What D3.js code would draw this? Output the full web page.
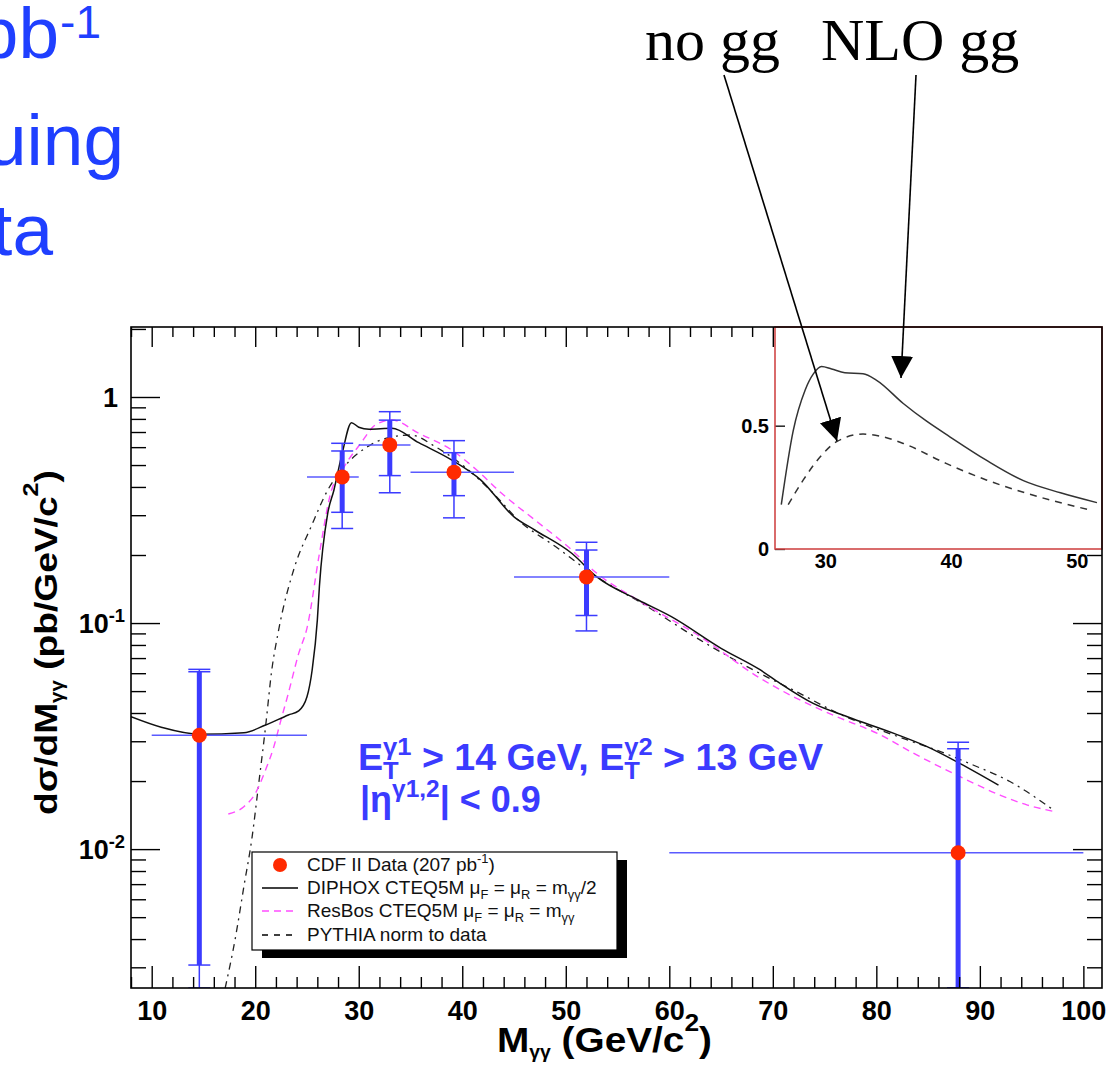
<!DOCTYPE html>
<html>
<head>
<meta charset="utf-8">
<script src="https://cdn.jsdelivr.net/npm/d3@7"></script>
<style>
  body { margin: 0; background: #fff; }
  svg { display: block; }
</style>
</head>
<body>
<svg id="chart" width="1107" height="1066"></svg>
<script>
// ---- data ----
// CDF II points
const dataMass = [14.6, 28.4, 33.0, 39.2, 52.0, 87.9];
const dataXsec = [0.0319, 0.443, 0.614, 0.465, 0.160, 0.00963];
const binLow = [10, 25, 30, 35, 45, 60];
const binHigh = [25, 30, 35, 45, 60, 100];
const statHigh = [0.0609, 0.577, 0.79, 0.567, 0.2104, 0.0278];
const statLow = [0.00307, 0.309, 0.449, 0.366, 0.108, 0];
const totHigh = [0.0624, 0.624, 0.861, 0.641, 0.2277, 0.0297];
const totLow = [0, 0.262, 0.377, 0.292, 0.0923, 0];

// DIPHOX (solid)
const diphoxMass = [8.0, 11.0, 14.6, 18.9, 21.0, 23.2, 24.2, 25.0, 25.5, 26.0, 26.2, 27.0, 27.6, 28.4, 29.3, 30.0, 31.0, 33.2, 35.8, 39.0, 41.8, 45.0, 47.0, 50.6, 53.0, 57.0, 60.2, 65.0, 68.8, 70.7, 73.9, 77.2, 81.7, 84.9, 88.1, 91.8];
const diphoxVal = [0.0385, 0.0345, 0.0322, 0.0327, 0.0354, 0.0392, 0.0409, 0.0472, 0.062, 0.103, 0.145, 0.305, 0.387, 0.563, 0.77, 0.735, 0.72, 0.727, 0.628, 0.526, 0.429, 0.295, 0.258, 0.203, 0.160, 0.1265, 0.1067, 0.0773, 0.062, 0.0541, 0.0441, 0.0385, 0.0325, 0.0284, 0.0239, 0.0192];

// ResBos (magenta dashed)
const resbosMass = [17.4, 18.9, 20.0, 21.0, 21.8, 22.4, 23.2, 24.2, 25.0, 26.2, 27.2, 28.6, 30.2, 31.6, 33.2, 35.8, 39.0, 41.4, 43.8, 47.0, 50.2, 53.0, 57.0, 63.0, 68.8, 72.0, 76.2, 80.1, 83.9, 88.1, 92.0, 94.6, 97.3];
const resbosVal = [0.0143, 0.0154, 0.0176, 0.0224, 0.0284, 0.036, 0.0489, 0.0734, 0.095, 0.203, 0.362, 0.492, 0.624, 0.752, 0.791, 0.691, 0.582, 0.475, 0.375, 0.286, 0.218, 0.166, 0.126, 0.087, 0.0569, 0.0472, 0.0385, 0.0325, 0.0261, 0.0209, 0.0173, 0.01566, 0.01463];

// PYTHIA (dash-dot)
const pythiaMass = [17.1, 18.1, 18.9, 19.7, 20.3, 21.0, 21.6, 22.2, 23.8, 25.4, 27.0, 28.6, 30.6, 32.6, 35.0, 37.4, 40.2, 43.0, 45.4, 49.0, 53.0, 57.4, 63.0, 69.4, 72.0, 76.2, 83.0, 86.2, 89.4, 92.9, 97.1];
const pythiaVal = [0.00242, 0.00409, 0.00681, 0.01133, 0.01887, 0.0348, 0.062, 0.09, 0.177, 0.267, 0.387, 0.492, 0.593, 0.656, 0.679, 0.603, 0.492, 0.375, 0.286, 0.218, 0.160, 0.122, 0.084, 0.0578, 0.0505, 0.0401, 0.0304, 0.0270, 0.0235, 0.0199, 0.0149];

// inset (linear scale)
const insetNloMass = [26.5, 27.45, 28.4, 29.05, 29.7, 30.5, 31.55, 33.0, 34.05, 36.2, 38.0, 39.9, 42.8, 45.75, 48.7, 51.6];
const insetNloVal = [0.18, 0.48, 0.645, 0.71, 0.74, 0.73, 0.715, 0.71, 0.685, 0.59, 0.52, 0.455, 0.36, 0.277, 0.228, 0.188];
const insetNoggMass = [27.05, 28.25, 29.6, 30.9, 33.0, 34.3, 36.2, 39.6, 42.8, 46.0, 51.05];
const insetNoggVal = [0.18, 0.28, 0.374, 0.435, 0.466, 0.458, 0.428, 0.347, 0.28, 0.226, 0.158];

// tick labels
const xTickValues = [10, 20, 30, 40, 50, 60, 70, 80, 90, 100];
const yTickValues = [0.01, 0.1, 1];
const yTickBase = ["10", "10", "1"];
const yTickExp = ["-2", "-1", ""];
const insetXTicks = [30, 40, 50];
const insetYTicks = [0, 0.5];
const insetYLabels = ["0", "0.5"];

// ---- drawing ----
const svg = d3.select("#chart");
const sans = "'Liberation Sans', Arial, Helvetica, sans-serif";
const blue = "#3b3bff";

const plot = {left: 131, right: 1102, top: 327, bottom: 988};
const x = d3.scaleLinear().domain([8, 101.8]).range([plot.left, plot.right]);
const y = d3.scaleLog().domain([0.00243, 2.04]).range([plot.bottom, plot.top]);
const yc = v => v > y.domain()[0] ? y(v) : plot.bottom;

// text with sub/superscripts: parts = [[text, mode, dx]]
function rich(sel, parts, size, subScale = 0.68, subShift = 0.28) {
  let shift = 0;
  parts.forEach(p => {
    const mode = p[1] || "";
    const target = mode === "sup" ? -0.42 * size : mode === "hsup" ? -0.6 * size : mode === "sub" ? subShift * size : 0;
    const t = sel.append("tspan")
      .attr("dy", target - shift)
      .attr("font-size", mode === "sub" ? size * subScale : mode ? size * 0.68 : size)
      .text(p[0]);
    if (p[2]) t.attr("dx", p[2]);
    shift = target;
  });
  return sel;
}

// slide text cut at the left edge
const slide = svg.append("g").attr("fill", "#1f3fff").attr("font-family", sans).attr("text-anchor", "end");
slide.append("text").attr("x", 59).attr("y", 58).attr("font-size", 73).text("pb");
slide.append("text").attr("x", 101).attr("y", 38).attr("font-size", 46).text("-1");
slide.append("text").attr("x", 124).attr("y", 165).attr("font-size", 73).text("uing");
slide.append("text").attr("x", 53).attr("y", 255).attr("font-size", 73).text("ta");

svg.append("clipPath").attr("id", "clip")
  .append("rect").attr("x", plot.left).attr("y", plot.top)
  .attr("width", plot.right - plot.left).attr("height", plot.bottom - plot.top);

const g = svg.append("g").attr("clip-path", "url(#clip)");

const line = d3.line().x(d => x(d[0])).y(d => yc(d[1])).curve(d3.curveMonotoneX);

g.append("path").datum(d3.zip(pythiaMass, pythiaVal)).attr("d", line)
  .attr("fill", "none").attr("stroke", "#222").attr("stroke-width", 1.3).attr("stroke-dasharray", "7,5,2,5");
g.append("path").datum(d3.zip(resbosMass, resbosVal)).attr("d", line)
  .attr("fill", "none").attr("stroke", "#ff4dff").attr("stroke-width", 1.4).attr("stroke-dasharray", "7,5");
g.append("path").datum(d3.zip(diphoxMass, diphoxVal)).attr("d", line)
  .attr("fill", "none").attr("stroke", "#111").attr("stroke-width", 1.5);

// error bars and points
const pts = dataMass.map((m, i) => ({m, v: dataXsec[i], lo: binLow[i], hi: binHigh[i],
  sh: statHigh[i], sl: statLow[i], th: totHigh[i], tl: totLow[i]}));

const eb = g.selectAll(".pt").data(pts).enter().append("g").attr("class", "pt");
eb.append("line").attr("x1", d => x(d.lo)).attr("x2", d => x(d.hi))
  .attr("y1", d => y(d.v)).attr("y2", d => y(d.v)).attr("stroke", "#5a5aff").attr("stroke-width", 1.5);
eb.append("line").attr("x1", d => x(d.m)).attr("x2", d => x(d.m))
  .attr("y1", d => yc(d.th)).attr("y2", d => yc(d.tl)).attr("stroke", blue).attr("stroke-width", 1.5);
eb.append("line").attr("x1", d => x(d.m)).attr("x2", d => x(d.m))
  .attr("y1", d => yc(d.sh)).attr("y2", d => yc(d.sl)).attr("stroke", blue).attr("stroke-width", 5);
["th", "tl", "sh", "sl"].forEach(k => {
  eb.append("line").attr("x1", d => x(d.m) - 11).attr("x2", d => x(d.m) + 11)
    .attr("y1", d => yc(d[k])).attr("y2", d => yc(d[k])).attr("stroke", blue).attr("stroke-width", 1.5);
});
eb.append("circle").attr("cx", d => x(d.m)).attr("cy", d => y(d.v)).attr("r", 7.5).attr("fill", "#ff2a00");

// cut annotation
const ann = svg.append("g").attr("fill", blue).attr("font-family", sans).attr("font-weight", "bold");
rich(ann.append("text").attr("x", 358).attr("y", 770).attr("textLength", 465).attr("lengthAdjust", "spacingAndGlyphs"),
  [["E"], ["T", "sub"], ["γ1", "sup", -15], [" > 14 GeV, E", ""], ["T", "sub"], ["γ2", "sup", -15], [" > 13 GeV", ""]], 36, 0.68, 0.25);
rich(ann.append("text").attr("x", 360).attr("y", 812),
  [["|η"], ["γ1,2", "sup"], ["| < 0.9", ""]], 36);

// legend
const leg = svg.append("g").attr("font-family", sans);
leg.append("rect").attr("x", 262).attr("y", 860).attr("width", 365).attr("height", 98).attr("fill", "#000");
leg.append("rect").attr("x", 252).attr("y", 852).attr("width", 365).attr("height", 98)
  .attr("fill", "#fff").attr("stroke", "#000").attr("stroke-width", 1.2);
const legRows = [865, 888, 911, 935];
leg.append("circle").attr("cx", 280).attr("cy", legRows[0]).attr("r", 7).attr("fill", "#ff2a00");
leg.append("line").attr("x1", 262).attr("x2", 298).attr("y1", legRows[1]).attr("y2", legRows[1]).attr("stroke", "#000").attr("stroke-width", 1.3);
leg.append("line").attr("x1", 262).attr("x2", 298).attr("y1", legRows[2]).attr("y2", legRows[2]).attr("stroke", "#ff4dff").attr("stroke-width", 1.3).attr("stroke-dasharray", "7,5");
leg.append("line").attr("x1", 262).attr("x2", 298).attr("y1", legRows[3]).attr("y2", legRows[3]).attr("stroke", "#000").attr("stroke-width", 1.3).attr("stroke-dasharray", "6,6");
const legText = [
  [["CDF II Data (207 pb"], ["-1", "sup"], [")", ""]],
  [["DIPHOX CTEQ5M μ"], ["F", "sub"], [" = μ", ""], ["R", "sub"], [" = m", ""], ["γγ", "sub"], ["/2", ""]],
  [["ResBos CTEQ5M μ"], ["F", "sub"], [" = μ", ""], ["R", "sub"], [" = m", ""], ["γγ", "sub"]],
  [["PYTHIA norm to data"]]
];
legText.forEach((parts, i) => {
  rich(leg.append("text").attr("x", 307).attr("y", legRows[i] + 6).attr("fill", "#111"), parts, 19);
});

// axes ticks (inward, all four sides)
function tickAxis(axis, tx, ty, size, values) {
  svg.append("g").attr("transform", `translate(${tx},${ty})`)
    .call(axis.tickValues(values).tickSizeInner(-size).tickSizeOuter(0).tickFormat(""))
    .call(s => s.select(".domain").remove())
    .call(s => s.selectAll("line").attr("stroke", "#000").attr("stroke-width", 1.4));
}
const xMinor = x.ticks(50).filter(v => v % 10 !== 0);
const yMinor = y.ticks().filter(v => !yTickValues.includes(v));
tickAxis(d3.axisBottom(x), 0, plot.bottom, 22, xTickValues);
tickAxis(d3.axisBottom(x), 0, plot.bottom, 11, xMinor);
tickAxis(d3.axisTop(x), 0, plot.top, 20, xTickValues);
tickAxis(d3.axisTop(x), 0, plot.top, 10, xMinor);
tickAxis(d3.axisLeft(y), plot.left, 0, 29, yTickValues);
tickAxis(d3.axisLeft(y), plot.left, 0, 15, yMinor);
tickAxis(d3.axisRight(y), plot.right, 0, 29, yTickValues);
tickAxis(d3.axisRight(y), plot.right, 0, 15, yMinor);

// x tick labels
svg.append("g").attr("transform", `translate(0,${plot.bottom})`)
  .call(d3.axisBottom(x).tickValues(xTickValues).tickSize(0).tickPadding(13).tickFormat(d3.format("d")))
  .call(s => s.select(".domain").remove())
  .call(s => s.selectAll("text").attr("font-family", sans).attr("font-weight", "bold")
    .attr("font-size", 27).attr("fill", "#000"));

// y tick labels
const yl = svg.append("g").attr("font-family", sans).attr("font-weight", "bold").attr("fill", "#000").attr("text-anchor", "end");
yTickValues.forEach((v, i) => {
  const t = yl.append("text").attr("x", yTickExp[i] ? 125 : 118).attr("y", y(v) + 10);
  rich(t, yTickExp[i] ? [[yTickBase[i]], [yTickExp[i], "sup"]] : [[yTickBase[i]]], 27);
});

// axis titles
rich(svg.append("text").attr("x", 497).attr("y", 1052).attr("font-family", sans).attr("font-weight", "bold")
    .attr("textLength", 215).attr("lengthAdjust", "spacingAndGlyphs"),
  [["M"], ["γγ", "sub"], [" (GeV/c", ""], ["2", "hsup"], [")", ""]], 35, 0.5, 0.16);
rich(svg.append("text").attr("transform", "translate(57,815) rotate(-90)").attr("font-family", sans).attr("font-weight", "bold")
    .attr("textLength", 345).attr("lengthAdjust", "spacingAndGlyphs"),
  [["dσ/dM"], ["γγ", "sub"], ["  (pb/GeV/c", ""], ["2", "hsup"], [")", ""]], 32, 0.55, 0.2);

// ---- inset ----
const ins = {left: 775, right: 1102, top: 327, bottom: 549};
const xi = d3.scaleLinear().domain([26, 52]).range([ins.left, ins.right]);
const yi = d3.scaleLinear().domain([0, 0.9]).range([ins.bottom, ins.top]);
svg.append("rect").attr("x", ins.left).attr("y", ins.top).attr("width", ins.right - ins.left)
  .attr("height", ins.bottom - ins.top).attr("fill", "#fff");
const lineIn = d3.line().x(d => xi(d[0])).y(d => yi(d[1])).curve(d3.curveMonotoneX);
svg.append("path").datum(d3.zip(insetNloMass, insetNloVal)).attr("d", lineIn)
  .attr("fill", "none").attr("stroke", "#333").attr("stroke-width", 1.5);
svg.append("path").datum(d3.zip(insetNoggMass, insetNoggVal)).attr("d", lineIn)
  .attr("fill", "none").attr("stroke", "#333").attr("stroke-width", 1.5).attr("stroke-dasharray", "7,6");
svg.append("g").attr("transform", `translate(${ins.left},0)`)
  .call(d3.axisLeft(yi).tickValues(insetYTicks).tickSizeInner(-10).tickSizeOuter(0).tickPadding(6)
    .tickFormat((d, i) => insetYLabels[i]))
  .call(s => s.select(".domain").remove())
  .call(s => s.selectAll("line").attr("stroke", "#000").attr("stroke-width", 1.3))
  .call(s => s.selectAll("text").attr("font-family", sans).attr("font-weight", "bold").attr("font-size", 20).attr("fill", "#000"));
svg.append("g").attr("transform", `translate(0,${ins.bottom})`)
  .call(d3.axisBottom(xi).tickValues(insetXTicks).tickSize(0).tickPadding(5).tickFormat(d3.format("d")))
  .call(s => s.select(".domain").remove())
  .call(s => s.selectAll("text").attr("font-family", sans).attr("font-weight", "bold").attr("font-size", 20).attr("fill", "#000"));
svg.append("rect").attr("x", ins.left).attr("y", ins.top).attr("width", ins.right - ins.left)
  .attr("height", ins.bottom - ins.top).attr("fill", "none").attr("stroke", "#d04848").attr("stroke-width", 1.6);

// main frame
svg.append("rect").attr("x", plot.left).attr("y", plot.top).attr("width", plot.right - plot.left)
  .attr("height", plot.bottom - plot.top).attr("fill", "none").attr("stroke", "#000").attr("stroke-width", 1.6);

// ---- arrows and labels ----
const serif = "'Liberation Serif', 'Times New Roman', serif";
svg.append("text").attr("x", 645).attr("y", 60).attr("font-family", serif).attr("font-size", 60).text("no gg");
svg.append("text").attr("x", 821).attr("y", 60).attr("font-family", serif).attr("font-size", 60).text("NLO gg");

svg.append("defs").append("marker").attr("id", "head").attr("viewBox", "0 0 10 10")
  .attr("refX", 10).attr("refY", 5).attr("markerWidth", 22).attr("markerHeight", 22)
  .attr("markerUnits", "userSpaceOnUse").attr("orient", "auto")
  .append("path").attr("d", "M0,0 L10,5 L0,10 Z").attr("fill", "#000");
const arrows = [
  {from: [724, 75], to: [30.93, 0.438]},
  {from: [916, 75], to: [36.02, 0.693]}
];
svg.selectAll(".arrow").data(arrows).enter().append("line").attr("class", "arrow")
  .attr("x1", d => d.from[0]).attr("y1", d => d.from[1])
  .attr("x2", d => xi(d.to[0])).attr("y2", d => yi(d.to[1]))
  .attr("stroke", "#000").attr("stroke-width", 1.6).attr("marker-end", "url(#head)");
</script>
</body>
</html>
